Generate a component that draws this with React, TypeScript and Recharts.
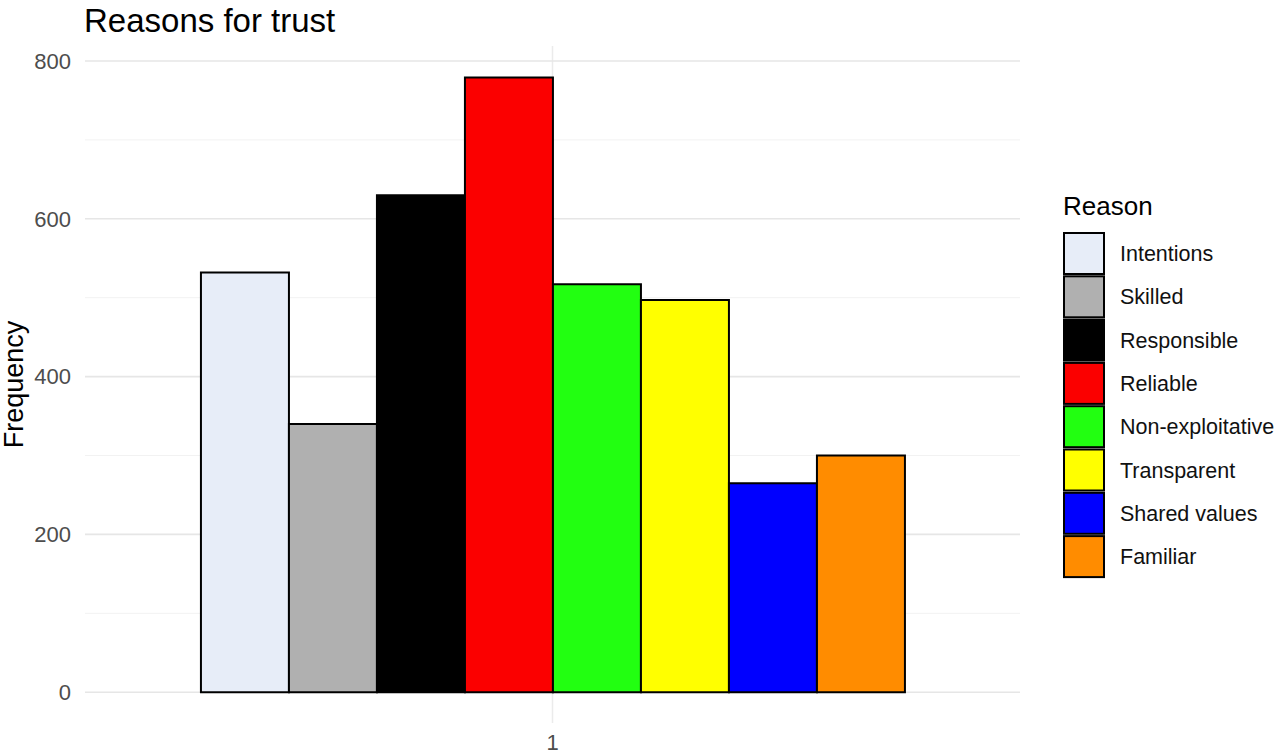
import { BarChart, Bar, XAxis, YAxis, CartesianGrid } from "recharts";

const categories = ["1"];
const reasons = [
    "Intentions",
    "Skilled",
    "Responsible",
    "Reliable",
    "Non-exploitative",
    "Transparent",
    "Shared values",
    "Familiar",
];
const frequencies = [532, 340, 630, 779, 517, 497, 265, 300];
const fills = ["#e7edf8", "#b0b0b0", "#000000", "#fb0000", "#22ff11", "#ffff00", "#0000ff", "#ff8c00"];
const yTicks = [0, 200, 400, 600, 800];
const minorTicks = [100, 300, 500, 700];

const data = categories.map((name) => {
    const row: Record<string, string | number> = { name };
    reasons.forEach((r, i) => {
        row[r] = frequencies[i];
    });
    return row;
});

const FONT = "'Liberation Sans', Arial, Helvetica, sans-serif";

const FrequencyLabel = ({ viewBox }: any) => {
    const x = 23;
    const y = viewBox.y + viewBox.height / 2;
    return (
        <text
            x={x}
            y={y}
            transform={`rotate(-90 ${x} ${y})`}
            textAnchor="middle"
            fontSize={27}
            fill="#000"
            fontFamily={FONT}
        >
            Frequency
        </text>
    );
};

function ReasonLegend() {
    const step = 43.3;
    return (
        <svg width={230} height={420} style={{ position: "absolute", left: 1050, top: 180 }}>
            <text x={13} y={35} fontSize={26} fill="#000" fontFamily={FONT}>
                Reason
            </text>
            {reasons.map((r, i) => (
                <g key={r}>
                    <rect
                        x={14}
                        y={53 + i * step}
                        width={40}
                        height={41}
                        fill={fills[i]}
                        stroke="#000"
                        strokeWidth={2}
                    />
                    <text
                        x={70}
                        y={53 + i * step + 21}
                        dominantBaseline="central"
                        fontSize={21.5}
                        fill="#111"
                        fontFamily={FONT}
                    >
                        {r}
                    </text>
                </g>
            ))}
        </svg>
    );
}

export default function App() {
    return (
        <div style={{ position: "absolute", left: 0, top: 0, width: 1280, height: 755, background: "#fff", fontFamily: FONT }}>
            <div
                style={{
                    position: "absolute",
                    left: 84,
                    top: 4,
                    fontSize: 33,
                    lineHeight: "33px",
                    color: "#000",
                    whiteSpace: "nowrap",
                }}
            >
                Reasons for trust
            </div>
            <BarChart
                width={1280}
                height={755}
                data={data}
                margin={{ top: 46, right: 260, bottom: 0, left: 0 }}
                barCategoryGap="12.4%"
                barGap={0}
            >
                <CartesianGrid
                    horizontal={false}
                    vertical={true}
                    verticalValues={categories}
                    stroke="#ebebeb"
                    strokeWidth={1.5}
                />
                <CartesianGrid
                    vertical={false}
                    horizontalValues={minorTicks}
                    stroke="#f2f2f2"
                    strokeWidth={1}
                />
                <CartesianGrid
                    vertical={false}
                    horizontalValues={yTicks}
                    stroke="#e6e6e6"
                    strokeWidth={1.6}
                />
                <XAxis
                    dataKey="name"
                    height={32}
                    axisLine={false}
                    tickLine={false}
                    tickMargin={5}
                    tick={{ fill: "#4d4d4d", fontSize: 22, fontFamily: FONT }}
                />
                <YAxis
                    width={85}
                    domain={[-39, 819]}
                    ticks={yTicks}
                    axisLine={false}
                    tickLine={false}
                    tickMargin={8}
                    tick={{ fill: "#4d4d4d", fontSize: 22, fontFamily: FONT }}
                    label={<FrequencyLabel />}
                />
                {reasons.map((r, i) => (
                    <Bar
                        key={r}
                        dataKey={r}
                        fill={fills[i]}
                        stroke="#000"
                        strokeWidth={2}
                        isAnimationActive={false}
                    />
                ))}
            </BarChart>
            <ReasonLegend />
        </div>
    );
}
